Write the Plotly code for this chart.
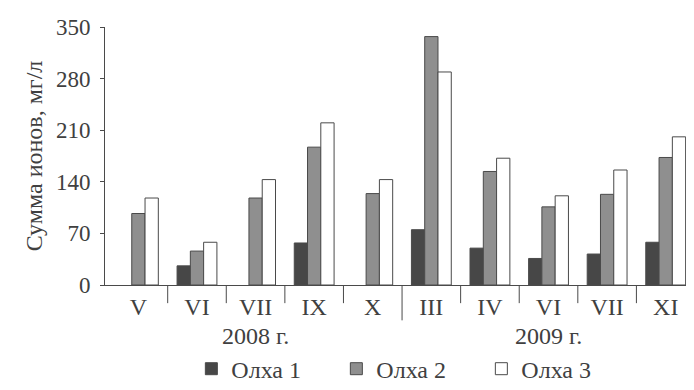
import plotly.graph_objects as go

months = ["V", "VI", "VII", "IX", "X", "III", "IV", "VI", "VII", "XI"]
years = ["2008 г."] * 5 + ["2009 г."] * 5
olxa1 = [None, 26, None, 57, None, 75, 50, 36, 42, 58]
olxa2 = [97, 46, 118, 187, 124, 337, 154, 106, 123, 173]
olxa3 = [118, 58, 143, 220, 143, 289, 172, 121, 156, 201]
series_names = ["Олха 1", "Олха 2", "Олха 3"]
y_ticks = [0, 70, 140, 210, 280, 350]

FONT = "Liberation Serif"
TXT = "#404040"
LINE = "#4a4a4a"

xs = list(range(len(months)))
fig = go.Figure()
colors = ["#474747", "#8f8f8f", "#ffffff"]
for name, vals, col in zip(series_names, [olxa1, olxa2, olxa3], colors):
    fig.add_trace(go.Bar(
        x=xs, y=vals, name=name,
        marker=dict(color=col, line=dict(color=LINE, width=1)),
    ))

# separators between categories
plot_h = 390 - 19 - 101
shapes = []
for i in range(len(months)):
    b = i + 0.5
    if i == len(months) - 1 or years[i] != years[i + 1]:
        ln = 37
    else:
        ln = 19
    shapes.append(dict(type="line", xref="x", yref="paper",
                       x0=b, x1=b, y0=0, y1=-ln / plot_h,
                       line=dict(color=LINE, width=1)))

annotations = []
for yr in dict.fromkeys(years):
    idx = [i for i, y in enumerate(years) if y == yr]
    annotations.append(dict(
        text=yr, xref="x", yref="paper",
        x=sum(idx) / len(idx), y=(289 - 342) / plot_h,
        yanchor="middle", xanchor="center", showarrow=False,
        font=dict(family=FONT, size=24, color=TXT)))

fig.update_layout(
    width=694, height=390,
    margin=dict(l=97, r=7, t=19, b=101),
    plot_bgcolor="white", paper_bgcolor="white",
    barmode="group", bargap=0.32, bargroupgap=0,
    font=dict(family=FONT, size=24, color=TXT),
    shapes=shapes, annotations=annotations,
    showlegend=True,
    legend=dict(orientation="h", x=0.515, xanchor="center",
                y=(289 - 377) / plot_h, yanchor="middle",
                font=dict(family=FONT, size=24, color=TXT),
                itemwidth=30, entrywidth=100, bgcolor="rgba(0,0,0,0)"),
    xaxis=dict(range=[-0.57, 9.5], tickmode="array", tickvals=xs,
               ticktext=months, ticks="", showline=True,
               linecolor=LINE, linewidth=1, showgrid=False,
               zeroline=False, tickfont=dict(family=FONT, size=24, color=TXT)),
    yaxis=dict(range=[0, 350], tickmode="array", tickvals=y_ticks,
               ticks="outside", ticklen=4, tickcolor=LINE,
               ticklabelstandoff=5,
               showline=True, linecolor=LINE, linewidth=1,
               showgrid=False, zeroline=False,
               tickfont=dict(family=FONT, size=23, color=TXT),
               title=dict(text="Сумма ионов, мг/л", standoff=6,
                          font=dict(family=FONT, size=24, color=TXT))),
)

fig.write_html("out.html")
